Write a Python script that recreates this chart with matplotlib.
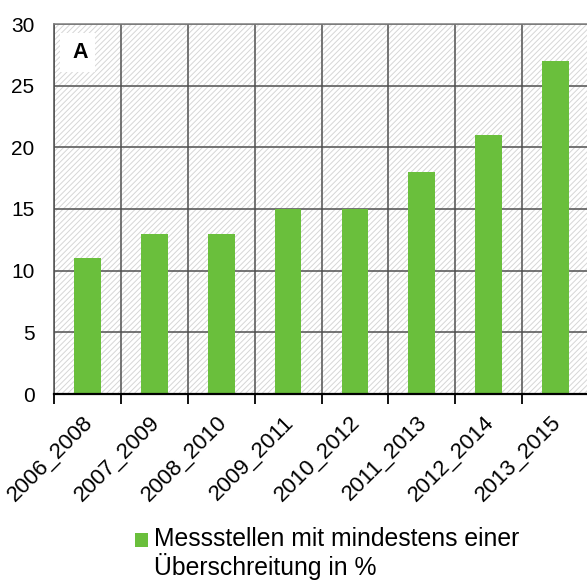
import matplotlib
matplotlib.use("Agg")
import matplotlib.pyplot as plt
from matplotlib.patches import Rectangle
from matplotlib.transforms import ScaledTranslation
import numpy as np

categories = ["2006_2008", "2007_2009", "2008_2010", "2009_2011",
              "2010_2012", "2011_2013", "2012_2014", "2013_2015"]
values = [11, 13, 13, 15, 15, 18, 21, 27]
yticks = [0, 5, 10, 15, 20, 25, 30]
legend_label = "Messstellen mit mindestens einer\nÜberschreitung in %"
panel_label = "A"

plt.rcParams['font.family'] = ['Liberation Sans', 'DejaVu Sans']
plt.rcParams['hatch.linewidth'] = 0.7

fig = plt.figure(figsize=(5.87, 5.81), dpi=100)
ax = fig.add_axes([54/587, 1-394/581, (589-54)/587, (394-24)/581])

n = len(categories)
x = np.arange(n)
ax.set_xlim(-0.5, n-0.5)
ax.set_ylim(0, 30)

# hatched background
ax.add_patch(Rectangle((0, 0), 1, 1, transform=ax.transAxes, facecolor='white',
                       edgecolor='#d6d6d6', lw=0, hatch='//////', zorder=0))

# grid
for b in np.arange(-0.5, n, 1.0):
    ax.axvline(b, color='#505050', lw=1.1, zorder=1)
for yv in yticks[1:]:
    ax.axhline(yv, color='#505050', lw=1.1, zorder=1)

bars = ax.bar(x, values, width=0.4, color='#6abf3c', zorder=2,
              label=legend_label)

ax.set_yticks(yticks)
ax.set_yticklabels([str(v) for v in yticks], fontsize=15)
ax.set_xticks(x)
ax.set_xticklabels(categories, rotation=45, ha='right', rotation_mode='anchor',
                   fontsize=16)
ax.tick_params(axis='x', length=0, pad=13)
ax.tick_params(axis='y', length=0, pad=14)
shift = ScaledTranslation(-5/100, 0, fig.dpi_scale_trans)
for lbl in ax.get_xticklabels():
    lbl.set_transform(lbl.get_transform() + shift)
ax.set_xticks(np.arange(-0.5, n, 1.0), minor=True)
ax.tick_params(axis='x', which='minor', length=7, width=1.3, color='black', direction='out')

ax.spines['right'].set_visible(False)
ax.spines['top'].set_color('#808080')
ax.spines['top'].set_linewidth(1.1)
ax.spines['left'].set_color('#505050')
ax.spines['left'].set_linewidth(1.1)
ax.spines['bottom'].set_color('black')
ax.spines['bottom'].set_linewidth(1.6)

# panel label with white box
ax.add_patch(Rectangle((6/535, (394-72)/370), 35/535, 39/370, transform=ax.transAxes,
                       facecolor='white', edgecolor='none', zorder=3))
ax.text((80.5-54)/535, (394-53)/370, panel_label, transform=ax.transAxes,
        fontsize=15.5, fontweight='bold', ha='center', va='center', zorder=4)

# legend swatch + label
fig.patches.append(Rectangle((135/587, 1-547/581), 13/587, 14/581,
                             transform=fig.transFigure, facecolor=bars.patches[0].get_facecolor(),
                             edgecolor='none'))
fig.text(154/587, 1-575/581, legend_label, fontsize=17.8, ha='left', va='baseline',
         linespacing=1.08, multialignment='left')

fig.savefig("out.png", dpi=100)
